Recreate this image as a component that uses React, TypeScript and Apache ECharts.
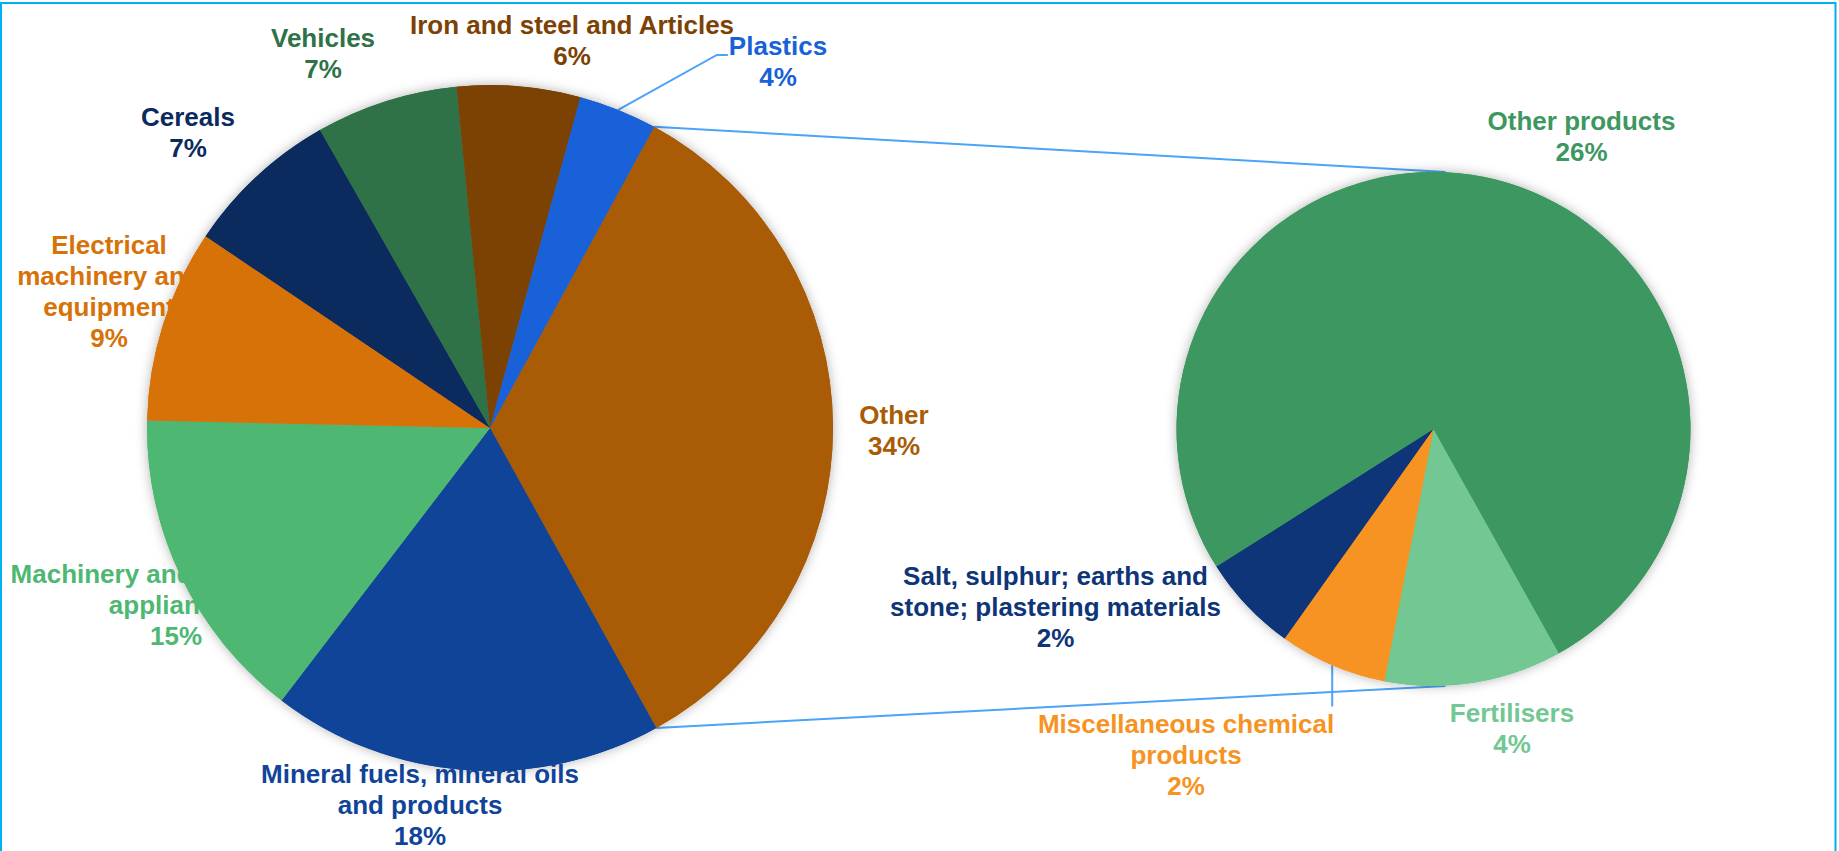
import React, { useEffect, useRef } from "react";
import * as echarts from "echarts";

// ---------- data ----------
const mainCategories = [
  "Other",
  "Mineral fuels, mineral oils\nand products",
  "Machinery and mechanical\nappliances",
  "Electrical\nmachinery and\nequipment",
  "Cereals",
  "Vehicles",
  "Iron and steel and Articles",
  "Plastics",
];
const mainValues = [34.0, 18.45, 14.95, 9.1, 7.3, 6.7, 5.8, 3.7];

const detailCategories = [
  "Fertilisers",
  "Miscellaneous chemical\nproducts",
  "Salt, sulphur; earths and\nstone; plastering materials",
  "Other products",
];
const detailValues = [3.8, 2.3, 2.1, 25.8];

// ---------- styles / layout ----------
const mainColors = ["#A95B06", "#104499", "#4EB873", "#D77208", "#0B2A5E", "#2F7247", "#7B4204", "#1961D8"];
const detailColors = ["#72C792", "#F69322", "#0E3578", "#3D9760"];

const W = 1839;
const H = 851;
const LEFT = { cx: 490, cy: 428, r: 343, startAngle: 61.4 };
const RIGHT = { cx: 1433.5, cy: 429, r: 257, startAngle: -60.8 };

const mainLabelPos = [
  [894, 430],
  [420, 805],
  [176, 605],
  [109, 291],
  [188, 132],
  [323, 53],
  [572, 40],
  [778, 61],
];
const detailLabelPos = [
  [1512, 728],
  [1186, 755],
  [1055.5, 607],
  [1581.5, 136],
];

const FONT = "'Liberation Sans', Arial, Helvetica, sans-serif";
const LINE_H = 31;
const LEADER = "#4DA3F8";

function pointAt(g: typeof LEFT, theta: number) {
  const rad = (theta * Math.PI) / 180;
  return [g.cx + g.r * Math.sin(rad), g.cy - g.r * Math.cos(rad)];
}
function sliceTheta(vals: number[], idx: number, g: typeof LEFT, frac: number) {
  const total = vals.reduce((a, b) => a + b, 0);
  let cum = 0;
  for (let i = 0; i < idx; i++) cum += vals[i];
  return 90 - g.startAngle + ((cum + vals[idx] * frac) / total) * 360;
}

function makeSeries(
  cats: string[],
  vals: number[],
  colors: string[],
  g: typeof LEFT,
  pos: number[][],
  leaders: Record<number, string>
) {
  const common = {
    type: "pie",
    center: [g.cx, g.cy],
    radius: g.r,
    startAngle: g.startAngle,
    clockwise: true,
    avoidLabelOverlap: false,
    silent: true,
    emphasis: { disabled: true },
  };
  const labelSeries = {
    ...common,
    z: 1,
    data: cats.map((n, i) => ({
      name: n,
      value: vals[i],
      itemStyle: { color: colors[i] },
      label: { color: colors[i] },
      labelLine: { show: leaders[i] != null },
    })),
    itemStyle: { shadowBlur: 12, shadowColor: "rgba(0,0,0,0.3)", borderWidth: 0 },
    label: {
      show: true,
      position: "outside",
      fontFamily: FONT,
      fontWeight: "bold",
      fontSize: 26,
      lineHeight: LINE_H,
      formatter: (p: any) => `${p.name}\n${Math.round(p.value)}%`,
    },
    labelLine: { show: false, lineStyle: { color: LEADER, width: 2 } },
    labelLayout: (p: any) => {
      const i = p.dataIndex;
      const [x, y] = pos[i];
      const res: any = { x, y, align: "center", verticalAlign: "middle" };
      const kind = leaders[i];
      if (kind) {
        const p0 = pointAt(g, sliceTheta(vals, i, g, 0.5));
        const w = p.labelRect ? p.labelRect.width : 100;
        const h = p.labelRect ? p.labelRect.height : 60;
        if (kind === "side") {
          const p2 = [x - w / 2 - 1, y - 6];
          const p1 = [p2[0] - 11, p2[1]];
          res.labelLinePoints = [p0, p1, p2];
        } else {
          const top = y - h / 2 - 2;
          res.labelLinePoints = [p0, [p0[0], (p0[1] + top) / 2], [p0[0], top]];
        }
      }
      return res;
    },
  };
  const mainSeries = {
    ...common,
    z: 3,
    data: cats.map((n, i) => ({ name: n, value: vals[i], itemStyle: { color: colors[i] } })),
    itemStyle: { borderWidth: 0 },
    label: { show: false },
    labelLine: { show: false },
  };
  return [labelSeries, mainSeries];
}

export default function App() {
  const ref = useRef<HTMLDivElement>(null);
  useEffect(() => {
    document.body.style.margin = "0";
    if (!ref.current) return;
    const chart = echarts.init(ref.current, undefined, { renderer: "svg" });

    // connector lines: from the edges of the aggregated "Other" slice to the secondary pie
    const topStart = pointAt(LEFT, sliceTheta(mainValues, 0, LEFT, 0));
    const botStart = pointAt(LEFT, sliceTheta(mainValues, 0, LEFT, 1));
    const topEnd = [RIGHT.cx + 12, RIGHT.cy - RIGHT.r];
    const botEnd = [RIGHT.cx + 12, RIGHT.cy + RIGHT.r];

    chart.setOption({
      animation: false,
      backgroundColor: "#ffffff",
      graphic: [
        {
          type: "rect",
          shape: { x: 1, y: 3, width: 1834.5, height: 900 },
          style: { fill: "none", stroke: "#00B0F0", lineWidth: 2 },
          z: 0,
        },
        {
          type: "line",
          shape: { x1: topStart[0], y1: topStart[1], x2: topEnd[0], y2: topEnd[1] },
          style: { stroke: LEADER, lineWidth: 2 },
          z: 0,
        },
        {
          type: "line",
          shape: { x1: botStart[0], y1: botStart[1], x2: botEnd[0], y2: botEnd[1] },
          style: { stroke: LEADER, lineWidth: 2 },
          z: 0,
        },
      ],
      series: [
        ...makeSeries(mainCategories, mainValues, mainColors, LEFT, mainLabelPos, { 7: "side" }),
        ...makeSeries(detailCategories, detailValues, detailColors, RIGHT, detailLabelPos, { 1: "down" }),
      ],
    });
    return () => chart.dispose();
  }, []);
  return <div ref={ref} style={{ width: W, height: H }} />;
}
